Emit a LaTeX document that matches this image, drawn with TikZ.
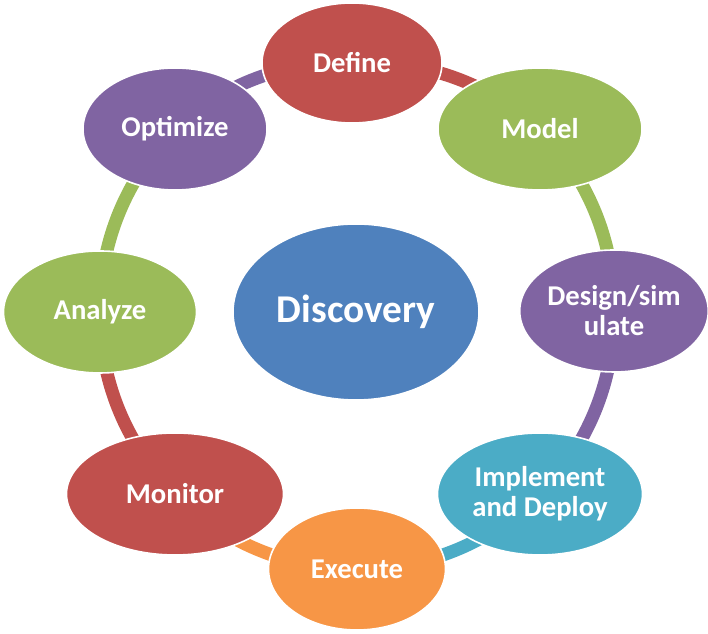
\documentclass[tikz,border=0pt]{standalone}
\usepackage{fontspec}
\setmainfont{Carlito}
\usetikzlibrary{shapes.geometric,backgrounds}
\definecolor{cyred}{HTML}{C0504D}
\definecolor{cygreen}{HTML}{9BBB59}
\definecolor{cypurple}{HTML}{8064A2}
\definecolor{cyteal}{HTML}{4BACC6}
\definecolor{cyorange}{HTML}{F79646}
\definecolor{cyblue}{HTML}{4F81BD}
\begin{document}
\begin{tikzpicture}[x=0.75pt,y=0.75pt,
		phase/.style={ellipse,draw=white,line width=1.2pt,inner sep=0pt,minimum height=91.5pt,
			text=white,align=center,font=\fontsize{21.5pt}{22.5pt}\selectfont\bfseries},
		band/.style={line width=9.8pt,bend left=22.5,looseness=0.9}]
		\useasboundingbox (0,0) rectangle (708,634);

		\node[phase,fill=cyred,minimum width=135pt,minimum height=90pt] (define) at (352,571) {Define};
		\node[phase,fill=cygreen,minimum width=153pt] (model) at (540,505) {Model};
		\node[phase,fill=cypurple,minimum width=136.5pt] (design) at (614,323) {Design/sim\\ulate};
		\node[phase,fill=cyteal,minimum width=153.75pt] (implement) at (540,140) {Implement\\and Deploy};
		\node[phase,fill=cyorange,minimum width=132.75pt] (execute) at (357,65) {Execute};
		\node[phase,fill=cyred,minimum width=162.75pt] (monitor) at (175,140) {Monitor};
		\node[phase,fill=cygreen,minimum width=144.75pt] (analyze) at (100,322) {Analyze};
		\node[phase,fill=cypurple,minimum width=138pt] (optimize) at (175,505) {Optimize};
		\node[phase,fill=cyblue,minimum width=184.5pt,minimum height=132pt,
			font=\fontsize{29.5pt}{32pt}\selectfont\bfseries] (discovery) at (356,322) {Discovery};

		\begin{pgfonlayer}{background}
			\draw[band,cyred] (define.center) to (model.center);
			\draw[band,cygreen] (model.center) to (design.center);
			\draw[band,cypurple] (design.center) to (implement.center);
			\draw[band,cyteal] (implement.center) to (execute.center);
			\draw[band,cyorange] (execute.center) to (monitor.center);
			\draw[band,cyred] (monitor.center) to (analyze.center);
			\draw[band,cygreen] (analyze.center) to (optimize.center);
			\draw[band,cypurple] (optimize.center) to (define.center);
		\end{pgfonlayer}
	\end{tikzpicture}
\end{document}
